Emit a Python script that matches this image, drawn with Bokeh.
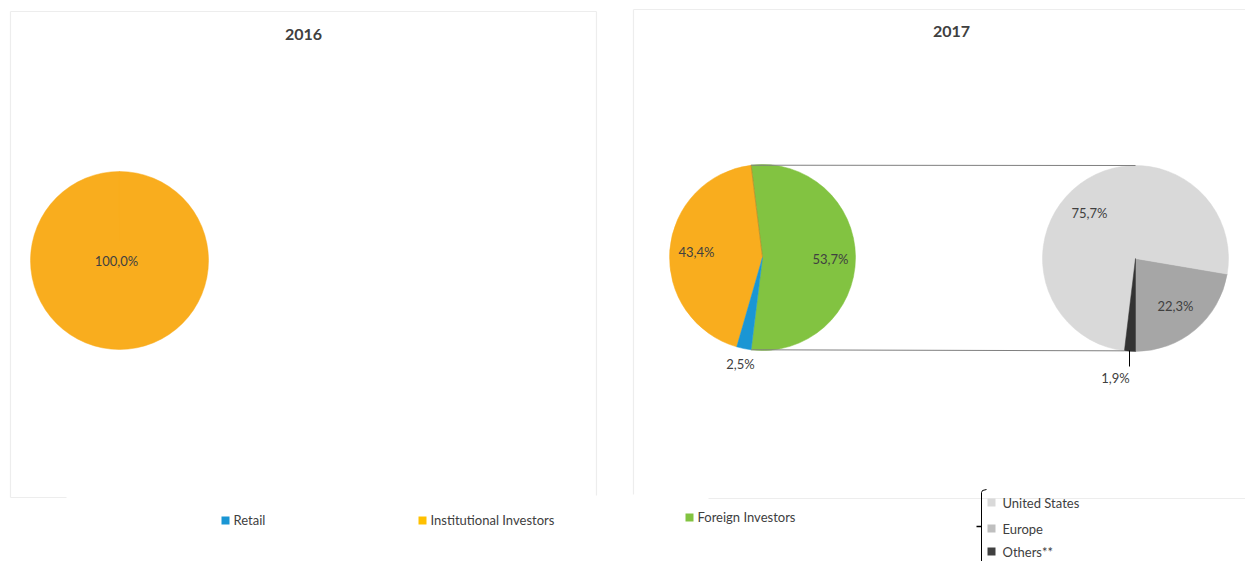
import math
from bokeh.plotting import figure
from bokeh.models import Range1d, ColumnDataSource
from bokeh.core.properties import value
from bokeh.embed import file_html
from bokeh.resources import INLINE

# ---------------- data ----------------
titles = ["2016", "2017"]
cats_2016 = ["Institutional Investors"]
vals_2016 = [100.0]
cats_2017 = ["Foreign Investors", "Institutional Investors", "Retail"]
vals_2017 = [53.7, 43.4, 2.5]
sub_cats = ["Europe", "United States", "Others**"]
sub_vals = [22.3, 75.7, 1.9]
legend_main = ["Retail", "Institutional Investors", "Foreign Investors"]
legend_sub = ["United States", "Europe", "Others**"]

colors = {
    "Retail": "#1A96D4",
    "Institutional Investors": "#F9AD1E",
    "Foreign Investors": "#82C341",
    "United States": "#D9D9D9",
    "Europe": "#A6A6A6",
    "Others**": "#333333",
}
legend_colors = {
    "Retail": "#1A96D4",
    "Institutional Investors": "#FFC000",
    "Foreign Investors": "#82C341",
    "United States": "#D9D9D9",
    "Europe": "#BFBFBF",
    "Others**": "#404040",
}

FONT = value("Lato")
TXT = "#404040"
W, H = 1245, 561


def Y(sy):
    return H - sy


def fmt(v):
    return ("%.1f%%" % v).replace(".", ",")


p = figure(width=W, height=H, x_range=Range1d(0, W), y_range=Range1d(0, H),
           output_backend="svg", toolbar_location=None, min_border=0)
p.axis.visible = False
p.grid.visible = False
p.outline_line_color = None
p.background_fill_color = "white"
p.border_fill_color = "white"

# panel frames (faint, partly broken at the bottom as in the source)
fx0 = [10, 10, 596, 10, 633, 633, 708]
fy0 = [Y(11), Y(11), Y(11), Y(497), Y(9), Y(9), Y(498)]
fx1 = [596, 10, 596, 66, 1250, 633, 1250]
fy1 = [Y(11), Y(497), Y(495), Y(497), Y(9), Y(494), Y(498)]
p.segment(x0=fx0, y0=fy0, x1=fx1, y1=fy1, line_color="#EDEDED", line_width=1.2)

# titles
p.text(x=[303, 951], y=[Y(34), Y(31)], text=titles, text_font=FONT, text_font_size="16px",
       text_font_style="bold", text_color=TXT, text_align="center", text_baseline="middle")


def pie(cx, cy, r, cats, vals, start):
    tot = sum(vals)
    starts, ends, cols = [], [], []
    a = start
    for c, v in zip(cats, vals):
        da = v / tot * 2 * math.pi
        starts.append(a)
        ends.append(a + da)
        cols.append(colors[c])
        a += da
    src = ColumnDataSource(dict(x=[cx] * len(vals), y=[cy] * len(vals), s=starts, e=ends, c=cols))
    p.wedge(x="x", y="y", radius=r, start_angle="s", end_angle="e", fill_color="c",
            line_color="c", line_width=0.5, direction="anticlock", source=src)
    return starts, ends


# 2016 pie
cx1, cy1, r1 = 119, Y(260), 89
pie(cx1, cy1, r1, cats_2016, vals_2016, math.pi / 2)
p.text(x=[cx1 - 3], y=[cy1], text=[fmt(vals_2016[0])], text_font=FONT, text_font_size="13px",
       text_color=TXT, text_align="center", text_baseline="middle")

# 2017 main pie
cx2, cy2, r2 = 762, Y(257), 93
g_span = vals_2017[0] / sum(vals_2017) * 2 * math.pi
s2, e2 = pie(cx2, cy2, r2, cats_2017, vals_2017, -g_span / 2)
# separator line between green and orange
p.segment(x0=[cx2], y0=[cy2], x1=[cx2 + r2 * math.cos(e2[0])], y1=[cy2 + r2 * math.sin(e2[0])],
          line_color="#6b6b3a", line_width=0.6, line_alpha=0.6)

# secondary pie
cx3, cy3, r3 = 1135, Y(258), 93
s3, e3 = pie(cx3, cy3, r3, sub_cats, sub_vals, -math.pi / 2)

# connector lines
top_x0 = cx2 + r2 * math.cos(e2[0])
top_y0 = cy2 + r2 * math.sin(e2[0])
bot_x0 = cx2 + r2 * math.cos(s2[0])
bot_y0 = cy2 + r2 * math.sin(s2[0])
bot_x1 = cx3 + r3 * math.cos(s3[2])
bot_y1 = cy3 + r3 * math.sin(s3[2])
p.segment(x0=[top_x0, bot_x0], y0=[top_y0, bot_y0], x1=[cx3, bot_x1], y1=[cy3 + r3, bot_y1],
          line_color="#7f7f7f", line_width=1)

# data labels
lab_x = [830, 696, 740, 1175, 1089, 1115]
lab_y = [Y(258), Y(251), Y(363), Y(305), Y(212), Y(377)]
lab_t = [fmt(v) for v in vals_2017] + [fmt(v) for v in sub_vals]
p.text(x=lab_x, y=lab_y, text=lab_t, text_font=FONT, text_font_size="13px",
       text_color=TXT, text_align="center", text_baseline="middle")
# leader line for small slice
p.segment(x0=[1129], y0=[Y(350)], x1=[1129], y1=[Y(366)], line_color="black", line_width=1)

# legend (main)
lx = [225, 422, 689]
ly = [Y(520), Y(520), Y(517)]
p.rect(x=lx, y=ly, width=8, height=8, fill_color=[legend_colors[c] for c in legend_main],
       line_color=None)
p.text(x=[x + 8 for x in lx], y=[y + 1 for y in ly], text=legend_main, text_font=FONT,
       text_font_size="13px", text_color=TXT, text_align="left", text_baseline="middle")

# legend (sub)
sx = [991, 991, 991]
sy = [Y(502), Y(528), Y(551)]
p.rect(x=sx, y=sy, width=8, height=8, fill_color=[legend_colors[c] for c in legend_sub],
       line_color=None)
p.text(x=[1002] * 3, y=sy, text=legend_sub, text_font=FONT,
       text_font_size="13px", text_color=TXT, text_align="left", text_baseline="middle")

# bracket
p.line(x=[986, 982, 981, 981], y=[Y(489), Y(490), Y(492), Y(561)], line_color="black", line_width=1)
p.segment(x0=[976], y0=[Y(526)], x1=[981], y1=[Y(526)], line_color="black", line_width=1.5)

open("out.html", "w").write(file_html(p, INLINE))
